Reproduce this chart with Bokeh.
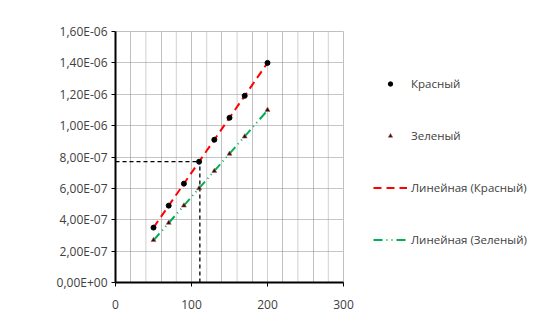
import numpy as np
from bokeh.plotting import figure
from bokeh.models import (Legend, LegendItem, FixedTicker, CustomJSTickFormatter,
                          Range1d, Span)
from bokeh.embed import file_html
from bokeh.resources import INLINE

# ---- data ----
x_vals = [50, 70, 90, 110, 130, 150, 170, 200]
red_y = [3.5e-7, 4.9e-7, 6.3e-7, 7.7e-7, 9.1e-7, 1.05e-6, 1.19e-6, 1.40e-6]
green_y = [2.7e-7, 3.8e-7, 4.9e-7, 6.0e-7, 7.1e-7, 8.2e-7, 9.3e-7, 1.10e-6]
guide_x = [0, 111]
guide_y = [0, 7.7e-7]

y_ticks = [0, 2e-7, 4e-7, 6e-7, 8e-7, 1e-6, 1.2e-6, 1.4e-6, 1.6e-6]
y_labels = ["0,00E+00", "2,00E-07", "4,00E-07", "6,00E-07", "8,00E-07",
            "1,00E-06", "1,20E-06", "1,40E-06", "1,60E-06"]
x_ticks = [0, 100, 200, 300]
grid_solid = [20, 60, 100, 140, 180, 220, 260]
grid_dotted = [40, 80, 120, 160, 200, 240, 280]

series_names = ["Красный", "Зеленый", "Линейная (Красный)", "Линейная (Зеленый)"]

FONT = "Open Sans"
TXT = "#404040"

p = figure(frame_width=228, frame_height=251, output_backend="svg", toolbar_location=None,
           x_range=Range1d(0, 300), y_range=Range1d(0, 1.6e-6),
           min_border_left=115, min_border_right=0, min_border_top=31,
           min_border_bottom=54)
p.background_fill_color = "white"
p.border_fill_color = "white"
p.outline_line_color = "#c0c0c0"
p.outline_line_width = 1

# grids
p.xgrid.ticker = FixedTicker(ticks=grid_solid)
p.xgrid.grid_line_color = "#c0c0c0"
p.xgrid.grid_line_width = 1
p.ygrid.ticker = FixedTicker(ticks=y_ticks[1:-1])
p.ygrid.grid_line_color = "#8c8c8c"
p.ygrid.grid_line_dash = "1 1"
p.ygrid.grid_line_width = 1
for gx in grid_dotted:
    p.add_layout(Span(location=gx, dimension="height", line_color="#a0a0a0",
                      line_dash="1 1", line_width=1, level="underlay"))

# axes
p.xaxis.ticker = FixedTicker(ticks=x_ticks)
p.yaxis.ticker = FixedTicker(ticks=y_ticks)
p.yaxis.formatter = CustomJSTickFormatter(args=dict(vals=y_ticks, labels=y_labels), code="""
    for (let i = 0; i < vals.length; i++) {
        if (Math.abs(vals[i] - tick) < 1e-12) { return labels[i]; }
    }
    return "";
""")
for ax in (p.xaxis, p.yaxis):
    ax.axis_line_color = "black"
    ax.axis_line_width = 2
    ax.major_tick_line_color = "black"
    ax.major_tick_line_width = 1
    ax.major_tick_in = 0
    ax.major_tick_out = 4
    ax.minor_tick_line_color = None
    ax.major_label_text_font = FONT
    ax.major_label_text_font_size = "12px"
    ax.major_label_text_color = TXT
p.xaxis.major_label_standoff = 13
p.yaxis.major_label_standoff = 4

# guide lines
p.line([guide_x[0], guide_x[1]], [guide_y[1], guide_y[1]], line_color="black",
       line_dash="4 3", line_width=1.3)
p.line([guide_x[1], guide_x[1]], [guide_y[0], guide_y[1]], line_color="black",
       line_dash="4 3", line_width=1.3)

# trend lines (least squares fit of the data)
xs = np.array(x_vals, dtype=float)
kr, br = np.polyfit(xs, np.array(red_y), 1)
kg, bg = np.polyfit(xs, np.array(green_y), 1)
xe = np.array([x_vals[0], x_vals[-1]], dtype=float)
r_line = p.line(xe, kr * xe + br, line_color="#ff0000", line_width=2, line_dash="8 5")
g_line = p.line(xe, kg * xe + bg, line_color="#00b050", line_width=2,
                line_dash="9 4 1 4 1 4")

# markers
r_pts = p.scatter(x_vals, red_y, marker="circle", size=5, fill_color="black",
                  line_color="black")
g_pts = p.scatter(x_vals, green_y, marker="triangle", size=5, fill_color="#201010",
                  line_color="#b06060", line_width=0.6)

legend = Legend(items=[
    LegendItem(label=series_names[0], renderers=[r_pts]),
    LegendItem(label=series_names[1], renderers=[g_pts]),
    LegendItem(label=series_names[2], renderers=[r_line]),
    LegendItem(label=series_names[3], renderers=[g_line]),
], location=(30, 33))
legend.border_line_color = None
legend.background_fill_color = None
legend.label_text_font = FONT
legend.label_text_font_size = "11.5px"
legend.label_text_color = TXT
legend.glyph_width = 34
legend.glyph_height = 11
legend.label_height = 20
legend.label_standoff = 4
legend.spacing = 32
legend.padding = 0
legend.margin = 30
legend.label_text_baseline = "middle"
p.add_layout(legend, "right")

open("out.html", "w").write(file_html(p, INLINE))
